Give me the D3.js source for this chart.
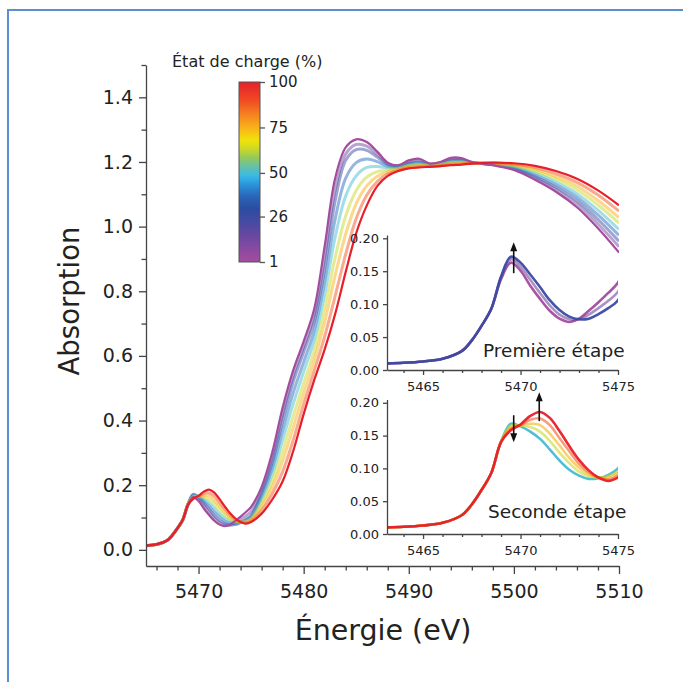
<!DOCTYPE html>
<html><head><meta charset="utf-8">
<script src="https://cdn.jsdelivr.net/npm/d3@7"></script>
<style>
body{margin:0;background:#fff;}
svg{display:block;font-family:"DejaVu Sans",sans-serif;}
</style></head><body>
<svg id="c" width="683" height="682"></svg>
<script>
// ---------- DATA ----------
const energy = [5463,5464,5465,5466,5467,5467.5,5468,5468.5,
  5469,5469.5,5470,5470.5,5471,5471.5,5472,5472.5,5473,5473.5,5474,5474.5,5475,
  5476,5477,5478,5479,5480,5481,5482,5483,5484,5485,5486,5487,5488,5489,5490,5491,5492,5493,5494,5495,5496,
  5498,5500,5502,5504,5506,5508,5510];
const abs1 = [0.010,0.011,0.013,0.017,0.029,0.045,0.067,0.093,
  0.138,0.163,0.151,0.128,0.108,0.090,0.078,0.073,0.078,0.090,0.103,0.117,0.133,
  0.195,0.300,0.440,0.555,0.645,0.745,0.940,1.150,1.245,1.270,1.262,1.232,1.198,1.190,1.205,1.210,1.195,1.200,1.213,1.212,1.200,
  1.190,1.175,1.145,1.108,1.060,0.995,0.920];
const abs13 = [0.010,0.011,0.013,0.017,0.029,0.045,0.067,0.093,
  0.140,0.168,0.157,0.137,0.117,0.098,0.084,0.077,0.077,0.084,0.094,0.105,0.119,
  0.185,0.284,0.420,0.538,0.628,0.725,0.905,1.115,1.225,1.254,1.249,1.224,1.195,1.188,1.200,1.205,1.194,1.198,1.210,1.209,1.199,
  1.191,1.178,1.150,1.115,1.070,1.008,0.938];
const abs26 = [0.010,0.011,0.013,0.017,0.029,0.045,0.067,0.093,
  0.142,0.172,0.163,0.145,0.126,0.106,0.091,0.081,0.077,0.078,0.085,0.094,0.106,
  0.175,0.268,0.400,0.520,0.612,0.705,0.870,1.080,1.205,1.238,1.236,1.215,1.192,1.186,1.196,1.200,1.192,1.196,1.206,1.206,1.198,
  1.192,1.180,1.155,1.122,1.080,1.022,0.955];
const abs38 = [0.010,0.011,0.013,0.017,0.029,0.045,0.067,0.093,
  0.142,0.170,0.164,0.151,0.136,0.117,0.102,0.089,0.083,0.081,0.085,0.092,0.103,
  0.165,0.250,0.370,0.486,0.581,0.676,0.830,1.024,1.150,1.198,1.209,1.201,1.186,1.184,1.193,1.197,1.191,1.195,1.203,1.204,1.198,
  1.193,1.183,1.160,1.130,1.091,1.036,0.973];
const abs50 = [0.010,0.011,0.013,0.017,0.029,0.045,0.067,0.093,
  0.141,0.168,0.164,0.156,0.145,0.129,0.112,0.098,0.089,0.084,0.085,0.090,0.100,
  0.155,0.232,0.340,0.451,0.551,0.647,0.790,0.968,1.095,1.157,1.183,1.186,1.181,1.182,1.191,1.195,1.190,1.193,1.201,1.202,1.197,
  1.194,1.185,1.166,1.138,1.102,1.051,0.991];
const abs63 = [0.010,0.011,0.013,0.017,0.029,0.045,0.067,0.093,
  0.141,0.165,0.165,0.163,0.156,0.142,0.124,0.108,0.095,0.088,0.086,0.088,0.096,
  0.144,0.212,0.306,0.413,0.516,0.615,0.745,0.905,1.033,1.112,1.153,1.170,1.175,1.179,1.188,1.192,1.189,1.192,1.198,1.199,1.197,
  1.195,1.188,1.172,1.147,1.114,1.067,1.011];
const abs75 = [0.010,0.011,0.013,0.017,0.029,0.045,0.067,0.093,
  0.141,0.163,0.166,0.168,0.166,0.153,0.135,0.116,0.101,0.091,0.086,0.086,0.093,
  0.133,0.193,0.276,0.378,0.485,0.586,0.705,0.849,0.977,1.071,1.126,1.156,1.169,1.177,1.185,1.189,1.187,1.190,1.195,1.197,1.196,
  1.196,1.191,1.177,1.155,1.125,1.081,1.028];
const abs88 = [0.010,0.011,0.013,0.017,0.029,0.045,0.067,0.093,
  0.140,0.160,0.166,0.174,0.176,0.166,0.146,0.126,0.107,0.094,0.086,0.083,0.089,
  0.122,0.173,0.242,0.339,0.451,0.554,0.660,0.786,0.915,1.025,1.097,1.139,1.163,1.174,1.183,1.186,1.186,1.188,1.193,1.194,1.196,
  1.197,1.193,1.183,1.164,1.137,1.098,1.048];
const abs100 = [0.010,0.011,0.013,0.017,0.029,0.045,0.067,0.093,
  0.140,0.158,0.167,0.180,0.186,0.177,0.157,0.134,0.113,0.097,0.086,0.081,0.086,
  0.112,0.155,0.212,0.305,0.420,0.525,0.620,0.730,0.860,0.980,1.065,1.125,1.157,1.172,1.180,1.183,1.185,1.187,1.190,1.192,1.195,
  1.198,1.196,1.188,1.172,1.148,1.112,1.066];

const chargeStates = [1,13,26,38,50,63,75,88,100];
const spectra = [abs1,abs13,abs26,abs38,abs50,abs63,abs75,abs88,abs100];
const inset1States = [1,13,26];
const inset2States = [50,63,75,88,100];

const mainXTicks = [5470,5480,5490,5500,5510];
const mainYTicks = [0,0.2,0.4,0.6,0.8,1.0,1.2,1.4];
const insetXTicks = [5465,5470,5475];
const insetYTicks = [0,0.05,0.10,0.15,0.20];
const colorbarTicks = [1,26,50,75,100];
const arrows1 = [{e:5469.65, from:0.147, to:0.194}];
const arrows2 = [{e:5469.65, from:0.181, to:0.140},{e:5470.96, from:0.172, to:0.216}];

// ---------- STYLE ----------
const cmapStops = [0,8,15,22,30,37,43,48,53,58,63,68,74,82,90,100];
const cmapColors = ["#a64d9e","#8a4aa0","#6a47a0","#4a4aa3","#2b4c9f","#2a64b8","#2a90d8","#38b8e8",
  "#60c0b0","#90c860","#c8d828","#f2e20a","#f8b818","#f68220","#f04a24","#e61f2a"];
const color = d3.scaleLinear().domain(cmapStops).range(cmapColors);
const axisColor = "#444", textColor = "#222";

const svg = d3.select("#c");
const defs = svg.append("defs");

// frame
svg.append("rect").attr("x",8).attr("y",10).attr("width",720).attr("height",720)
  .attr("fill","none").attr("stroke","#5b8fd1").attr("stroke-width",2);

const byState = s => spectra[chargeStates.indexOf(s)];
function lineGen(xs, ys){
  return d3.line().x((d,i)=>xs(energy[i])).y(d=>ys(d)).curve(d3.curveCatmullRom.alpha(0.5));
}
function styleAxis(g, fs){
  g.selectAll("path").attr("stroke",axisColor).attr("stroke-width",1.3);
  g.selectAll("line").attr("stroke",axisColor).attr("stroke-width",1.3);
  g.selectAll("text").attr("fill",textColor).style("font-size",fs+"px").style("font-family","DejaVu Sans");
}

// ---------- MAIN ----------
const x = d3.scaleLinear().domain([5465,5510]).range([146,619]);
const y = d3.scaleLinear().domain([-0.05,1.5]).range([566,65]);

defs.append("clipPath").attr("id","mainClip").append("rect")
  .attr("x",146).attr("y",40).attr("width",473).attr("height",526);

const mainG = svg.append("g").attr("clip-path","url(#mainClip)");
const mainLine = lineGen(x,y);
const drawOrder = [13,26,38,50,63,75,88,1,100];
drawOrder.forEach(s=>{
  const ext = (s===1||s===100);
  mainG.append("path").datum(byState(s)).attr("d",mainLine)
    .attr("fill","none").attr("stroke",color(s))
    .attr("stroke-width",ext?2.2:3).attr("stroke-opacity",ext?1:0.5)
    .attr("stroke-linejoin","round");
});

// axes
const gx = svg.append("g").attr("transform","translate(0,566)")
  .call(d3.axisBottom(x).tickValues(mainXTicks).tickFormat(d3.format("d")).tickSize(8).tickPadding(11).tickSizeOuter(0));
styleAxis(gx,19);
const gxm = svg.append("g").attr("transform","translate(0,566)")
  .call(d3.axisBottom(x).tickValues(d3.range(5466,5510,2).filter(v=>v%10!==0)).tickFormat("").tickSize(4.5).tickSizeOuter(0));
styleAxis(gxm,19); gxm.select(".domain").remove();

const gy = svg.append("g").attr("transform","translate(146,0)")
  .call(d3.axisLeft(y).tickValues(mainYTicks).tickFormat(d3.format(".1f")).tickSize(7).tickPadding(6).tickSizeOuter(0));
styleAxis(gy,19);
const gym = svg.append("g").attr("transform","translate(146,0)")
  .call(d3.axisLeft(y).tickValues([0.1,0.3,0.5,0.7,0.9,1.1,1.3,1.5]).tickFormat("").tickSize(4.5).tickSizeOuter(0));
styleAxis(gym,19); gym.select(".domain").remove();

svg.append("text").attr("x",383).attr("y",640).attr("text-anchor","middle")
  .attr("fill",textColor).style("font-size","28.5px").text("Énergie (eV)");
svg.append("text").attr("transform","translate(79,301) rotate(-90)").attr("text-anchor","middle")
  .attr("fill",textColor).style("font-size","27.5px").text("Absorption");

// ---------- COLORBAR ----------
const cb = d3.scaleLinear().domain([1,100]).range([262,82]);
const grad = defs.append("linearGradient").attr("id","cbGrad")
  .attr("x1",0).attr("y1",0).attr("x2",0).attr("y2",1);
d3.range(0,1.0001,0.02).forEach(t=>{
  grad.append("stop").attr("offset",t).attr("stop-color",color(100-t*99));
});
svg.append("rect").attr("x",239).attr("y",cb(100)).attr("width",21).attr("height",cb(1)-cb(100))
  .attr("fill","url(#cbGrad)").attr("stroke","#555").attr("stroke-width",1);
const gcb = svg.append("g").attr("transform","translate(260,0)")
  .call(d3.axisRight(cb).tickValues(colorbarTicks).tickSize(5).tickPadding(4).tickSizeOuter(0));
styleAxis(gcb,15); gcb.select(".domain").remove();
gcb.selectAll("line").attr("stroke","#555");
svg.append("text").attr("x",172).attr("y",67).attr("fill",textColor)
  .style("font-size","16px").text("État de charge (%)");

// ---------- INSETS ----------
const ix = d3.scaleLinear().domain([5463.15,5475]).range([387,618]);
function drawArrow(g, xs, ys, a){
  const X = xs(a.e), y0 = ys(a.from), y1 = ys(a.to);
  const dir = y1 < y0 ? 1 : -1;
  g.append("line").attr("x1",X).attr("x2",X).attr("y1",y0).attr("y2",y1+dir*6)
    .attr("stroke","#111").attr("stroke-width",1.6);
  g.append("path").attr("d",`M${X},${y1} L${X-3.5},${y1+dir*9} L${X+3.5},${y1+dir*9} Z`).attr("fill","#111");
}
function drawInset(id, bottom, top, states, label, lx, ly, fs, arrows){
  const iy = d3.scaleLinear().domain([0,0.205]).range([bottom,top]);
  defs.append("clipPath").attr("id",id).append("rect")
    .attr("x",387).attr("y",top-5).attr("width",231).attr("height",bottom-top+5);
  const g = svg.append("g").attr("clip-path",`url(#${id})`);
  const ln = lineGen(ix,iy);
  const lo = states[0], hi = states[states.length-1];
  states.forEach(s=>{
    const ext = (s===lo||s===hi);
    g.append("path").datum(byState(s)).attr("d",ln)
      .attr("fill","none").attr("stroke",color(s))
      .attr("stroke-width",2.6).attr("stroke-opacity",ext?0.95:0.6).attr("stroke-linejoin","round");
  });
  const ax = svg.append("g").attr("transform",`translate(0,${bottom})`)
    .call(d3.axisBottom(ix).tickValues(insetXTicks).tickFormat(d3.format("d")).tickSize(5).tickPadding(7).tickSizeOuter(0));
  styleAxis(ax,13);
  const axm = svg.append("g").attr("transform",`translate(0,${bottom})`)
    .call(d3.axisBottom(ix).tickValues(d3.range(5464,5475,1).filter(v=>v%5!==0)).tickFormat("").tickSize(3).tickSizeOuter(0));
  styleAxis(axm,13); axm.select(".domain").remove();
  const ay = svg.append("g").attr("transform","translate(387,0)")
    .call(d3.axisLeft(iy).tickValues(insetYTicks).tickFormat(d3.format(".2f")).tickSize(4).tickPadding(4).tickSizeOuter(0));
  styleAxis(ay,13);
  svg.append("text").attr("x",lx).attr("y",ly).attr("fill",textColor)
    .style("font-size",fs+"px").text(label);
  const ag = svg.append("g");
  arrows.forEach(a=>drawArrow(ag, ix, iy, a));
}
drawInset("in1", 370, 235, inset1States, "Première étape", 483, 357, 18.5, arrows1);
drawInset("in2", 534, 399.5, inset2States, "Seconde étape", 488, 518, 18.5, arrows2);
</script>
</body></html>
